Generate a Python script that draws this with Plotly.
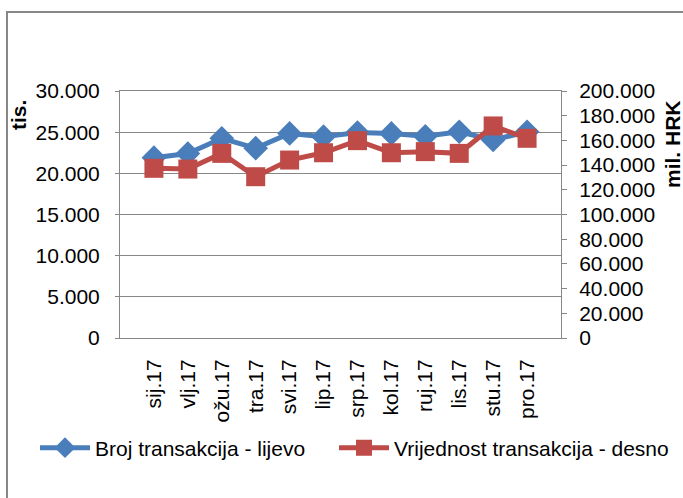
import plotly.graph_objects as go

months = ["sij.17", "vlj.17", "ožu.17", "tra.17", "svi.17", "lip.17",
          "srp.17", "kol.17", "ruj.17", "lis.17", "stu.17", "pro.17"]
broj = [21900, 22400, 24250, 23050, 24850, 24450, 24950, 24850, 24500, 25050, 24050, 25050]
vrijednost = [137400, 136800, 149500, 130600, 144100, 150000, 159800, 150000, 150900, 149500, 171700, 161700]

name_broj = "Broj transakcija - lijevo"
name_vrij = "Vrijednost transakcija - desno"
left_title = "tis."
right_title = "mil. HRK"

BLUE = "#4A7EBB"
RED = "#BE4B48"
GRAY = "#878787"
FONT = "Liberation Sans, Arial, sans-serif"
FS = 21

# body margin removed via post_script, so page == figure coords
W, H = 683, 498
# plot area in page pixels
PL, PR, PT, PB = 120, 561, 91, 338
L, R, T, B = PL, W - PR, PT, H - PB
pw, ph = W - L - R, H - T - B

def px(x):
    return (x - L) / pw

def py(y):
    return (H - B - y) / ph

fig = go.Figure()
fig.add_trace(go.Scatter(
    x=months, y=broj, name=name_broj, mode="lines+markers",
    line=dict(color=BLUE, width=5),
    marker=dict(symbol="diamond", size=19, color=BLUE),
    yaxis="y", legend="legend"))
fig.add_trace(go.Scatter(
    x=months, y=vrijednost, name=name_vrij, mode="lines+markers",
    line=dict(color=RED, width=5),
    marker=dict(symbol="square", size=19, color=RED),
    yaxis="y2", legend="legend2"))

legend_common = dict(orientation="h", yanchor="middle", xanchor="left",
                     font=dict(size=FS, family=FONT), itemwidth=50,
                     bgcolor="rgba(0,0,0,0)", tracegroupgap=0)

fig.update_layout(
    width=W, height=H,
    margin=dict(l=L, r=R, t=T, b=B, pad=0, autoexpand=False),
    paper_bgcolor="white", plot_bgcolor="white",
    separators=",.",
    font=dict(family=FONT, size=FS, color="black"),
    showlegend=True,
    legend=dict(x=px(35), y=py(448), **legend_common),
    legend2=dict(x=px(334), y=py(448), **legend_common),
    xaxis=dict(
        type="category", showgrid=False, showline=True, linecolor=GRAY, linewidth=1,
        mirror=True, ticks="", tickangle=-90, tickfont=dict(size=FS),
        ticklabelstandoff=12, zeroline=False, automargin=False),
    yaxis=dict(
        range=[0, 30000], dtick=5000, tickformat=",d", showgrid=True, gridcolor=GRAY,
        gridwidth=1, showline=True, linecolor=GRAY, linewidth=1, ticks="outside",
        ticklen=4, tickcolor=GRAY, tickfont=dict(size=FS), ticklabelstandoff=11,
        zeroline=False, automargin=False),
    yaxis2=dict(
        range=[0, 200000], dtick=20000, tickformat=",d", overlaying="y", side="right",
        showgrid=False, showline=True, linecolor=GRAY, linewidth=1, ticks="outside",
        ticklen=5, tickcolor=GRAY, tickfont=dict(size=FS), ticklabelstandoff=8,
        zeroline=False, automargin=False),
    shapes=[dict(type="rect", xref="paper", yref="paper",
                 x0=px(7), x1=px(720), y0=py(540), y1=py(12),
                 line=dict(color=GRAY, width=2), fillcolor="rgba(0,0,0,0)", layer="below")],
    annotations=[
        dict(text="<b>" + left_title + "</b>", xref="paper", yref="paper",
             x=px(18), y=py(115), textangle=-90, showarrow=False,
             font=dict(size=FS, family=FONT), xanchor="center", yanchor="middle"),
        dict(text="<b>" + right_title + "</b>", xref="paper", yref="paper",
             x=px(672), y=py(144), textangle=-90, showarrow=False,
             font=dict(size=FS, family=FONT), xanchor="center", yanchor="middle"),
    ],
)

fig.write_html("out.html", config={"displayModeBar": False},
               post_script="document.body.style.margin='0';document.body.style.overflow='hidden';")
